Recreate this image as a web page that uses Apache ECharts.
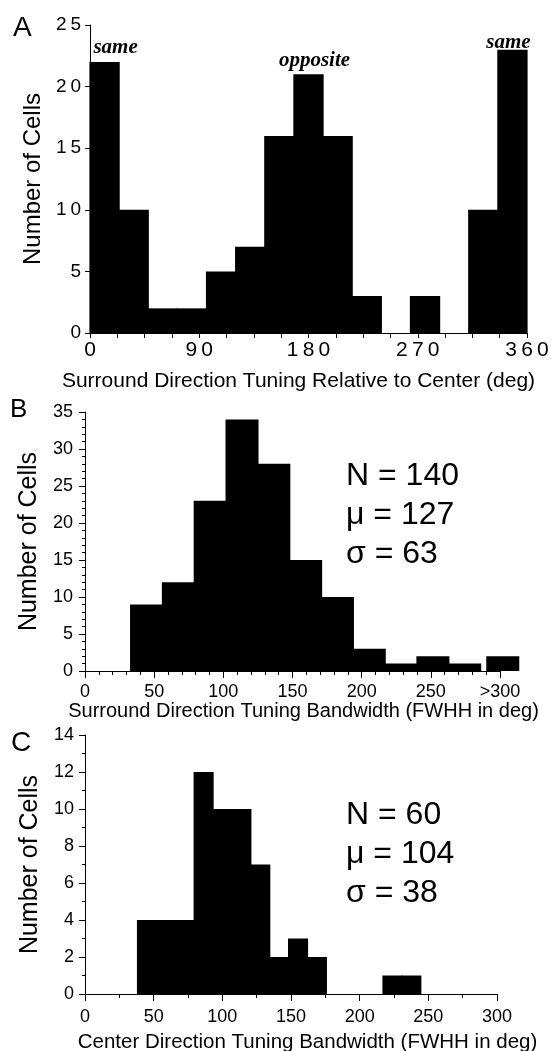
<!DOCTYPE html>
<html>
<head>
<meta charset="utf-8">
<script src="https://cdn.jsdelivr.net/npm/echarts@6/dist/echarts.min.js"></script>
<style>
  html, body { margin: 0; padding: 0; background: #fff; }
  #chart { width: 552px; height: 1051px; }
</style>
</head>
<body>
<div id="chart"></div>
<script>
// A: surround direction relative to center, 24 deg bins
var aEdges = [0, 24, 48, 72, 96, 120, 144, 168, 192, 216, 240, 264, 288, 312, 336, 360];
var aCounts = [22, 10, 2, 2, 5, 7, 16, 21, 16, 3, 0, 3, 0, 10, 23];
var aNotes = ['same', '', '', '', '', '', '', 'opposite', '', '', '', '', '', '', 'same'];
var aTickLabels = ['0', '90', '180', '270', '360'];

// B: surround bandwidth
var bEdges = [33, 56, 79, 102, 125, 148, 171, 194, 217, 240, 263, 286];
var bCounts = [9, 12, 23, 34, 28, 15, 10, 3, 1, 2, 1];
var bOverflow = [290.5, 313.5, 2];
var bTickLabels = ['0', '50', '100', '150', '200', '250', '>300'];
var bStats = ['N = 140', 'μ = 127', 'σ = 63'];

// C: center bandwidth
var cEdges = [38.25, 52, 65.75, 79.5, 93.25, 107, 120.75, 134.5, 148.25, 162, 175.75, 189.5, 203.25, 217, 230.75, 244.5];
var cCounts = [4, 4, 4, 12, 10, 10, 7, 2, 3, 2, 0, 0, 0, 1, 1];
var cStats = ['N = 60', 'μ = 104', 'σ = 38'];

var FONT = "'Liberation Sans', Arial, Helvetica, sans-serif";
var noteOffsets = { 0: [11, -14], 7: [6, -14], 14: [-4, -7] };

function bins(edges, counts) {
  return counts.map(function (n, i) { return [edges[i], edges[i + 1], n]; });
}

function spaced(s) {
  return String(s).split('').join('\u2009');
}

function histItem(notes) {
  return function (params, api) {
    var p0 = api.coord([api.value(0), api.value(2)]);
    var p1 = api.coord([api.value(1), 0]);
    // overlap neighbours by half a pixel each side so no seams show
    var rect = {
      type: 'rect',
      shape: { x: p0[0] - 0.6, y: p0[1], width: p1[0] - p0[0] + 1.2, height: p1[1] - p0[1] },
      style: { fill: '#000' }
    };
    var note = notes && notes[params.dataIndex];
    if (!note) return rect;
    var off = noteOffsets[params.dataIndex] || [0, -14];
    return {
      type: 'group',
      children: [rect, {
        type: 'text',
        x: (p0[0] + p1[0]) / 2 + off[0],
        y: p0[1] + off[1],
        style: {
          text: note, fill: '#000', align: 'center', verticalAlign: 'middle',
          font: "italic bold 21px 'Liberation Serif', 'Times New Roman', serif"
        }
      }]
    };
  };
}

function axisBase() {
  return {
    axisLine: { show: true, onZero: false, lineStyle: { color: '#000', width: 1 } },
    axisTick: { show: true, inside: false, length: 5, lineStyle: { color: '#000' } },
    splitLine: { show: false },
    minorSplitLine: { show: false }
  };
}

function merge(a, b) {
  for (var k in b) a[k] = b[k];
  return a;
}

var chart = echarts.init(document.getElementById('chart'));

var option = {
  animation: false,
  backgroundColor: '#fff',
  textStyle: { fontFamily: FONT, color: '#000' },
  grid: [
    { left: 90, top: 25, width: 437, height: 308, outerBoundsMode: 'none' },
    { left: 85, top: 412, width: 415, height: 259, outerBoundsMode: 'none' },
    { left: 85, top: 735, width: 412, height: 259, outerBoundsMode: 'none' }
  ],
  xAxis: [
    merge(axisBase(), {
      gridIndex: 0, type: 'value', min: 0, max: 360, interval: 90,
      minorTick: { show: true, splitNumber: 4, length: 5, lineStyle: { color: '#000' } },
      axisLabel: {
        color: '#000', fontSize: 21, fontFamily: FONT, margin: 7,
        formatter: function (v) { return spaced(aTickLabels[v / 90]); }
      },
      name: 'Surround Direction Tuning Relative to Center (deg)',
      nameLocation: 'middle', nameGap: 38,
      nameTextStyle: { color: '#000', fontSize: 21, fontFamily: FONT, padding: [0, 20, 0, 0] }
    }),
    merge(axisBase(), {
      gridIndex: 1, type: 'value', min: 0, max: 300, interval: 50,
      axisTick: { show: true, length: 7, lineStyle: { color: '#000' } },
      minorTick: { show: true, splitNumber: 5, length: 4, lineStyle: { color: '#000' } },
      axisLabel: {
        color: '#000', fontSize: 18, fontFamily: FONT, margin: 12,
        formatter: function (v) { return bTickLabels[v / 50]; }
      },
      name: 'Surround Direction Tuning Bandwidth (FWHH in deg)',
      nameLocation: 'middle', nameGap: 30,
      nameTextStyle: { color: '#000', fontSize: 20, fontFamily: FONT, padding: [0, 0, 0, 22] }
    }),
    merge(axisBase(), {
      gridIndex: 2, type: 'value', min: 0, max: 300, interval: 50,
      axisTick: { show: true, length: 7, lineStyle: { color: '#000' } },
      minorTick: { show: true, splitNumber: 2, length: 4, lineStyle: { color: '#000' } },
      axisLabel: { color: '#000', fontSize: 18, fontFamily: FONT, margin: 14 },
      name: 'Center Direction Tuning Bandwidth (FWHH in deg)',
      nameLocation: 'middle', nameGap: 38,
      nameTextStyle: { color: '#000', fontSize: 20.5, fontFamily: FONT, padding: [0, 0, 0, 33] }
    })
  ],
  yAxis: [
    merge(axisBase(), {
      gridIndex: 0, type: 'value', min: 0, max: 25, interval: 5,
      axisLabel: {
        color: '#000', fontSize: 19, fontFamily: FONT, margin: 9,
        formatter: function (v) { return spaced(v); }
      },
      name: 'Number of Cells', nameLocation: 'middle', nameGap: 40,
      nameTextStyle: { color: '#000', fontSize: 24, fontFamily: FONT }
    }),
    merge(axisBase(), {
      gridIndex: 1, type: 'value', min: 0, max: 35, interval: 5,
      axisTick: { show: true, length: 6, lineStyle: { color: '#000' } },
      minorTick: { show: true, splitNumber: 5, length: 3, lineStyle: { color: '#000' } },
      axisLabel: { color: '#000', fontSize: 18, fontFamily: FONT, margin: 12 },
      name: 'Number of Cells', nameLocation: 'middle', nameGap: 39,
      nameTextStyle: { color: '#000', fontSize: 25, fontFamily: FONT }
    }),
    merge(axisBase(), {
      gridIndex: 2, type: 'value', min: 0, max: 14, interval: 2,
      axisTick: { show: true, length: 6, lineStyle: { color: '#000' } },
      minorTick: { show: true, splitNumber: 2, length: 3, lineStyle: { color: '#000' } },
      axisLabel: { color: '#000', fontSize: 18, fontFamily: FONT, margin: 11 },
      name: 'Number of Cells', nameLocation: 'middle', nameGap: 41,
      nameTextStyle: { color: '#000', fontSize: 25, fontFamily: FONT }
    })
  ],
  graphic: [
    { type: 'text', left: 13, top: 14, style: { text: 'A', font: '28px ' + FONT, fill: '#000' } },
    { type: 'text', left: 10, top: 397, style: { text: 'B', font: '26px ' + FONT, fill: '#000' } },
    { type: 'text', left: 11, top: 729, style: { text: 'C', font: '28px ' + FONT, fill: '#000' } },
    { type: 'text', left: 346, top: 457, style: { text: bStats.join('\n'), font: '32px ' + FONT, lineHeight: 39, fill: '#000' } },
    { type: 'text', left: 346, top: 796, style: { text: cStats.join('\n'), font: '32px ' + FONT, lineHeight: 39, fill: '#000' } }
  ],
  series: [
    {
      type: 'custom', xAxisIndex: 0, yAxisIndex: 0,
      renderItem: histItem(aNotes),
      encode: { x: [0, 1], y: 2 },
      data: bins(aEdges, aCounts)
    },
    {
      type: 'custom', xAxisIndex: 1, yAxisIndex: 1,
      renderItem: histItem(null),
      encode: { x: [0, 1], y: 2 },
      data: bins(bEdges, bCounts).concat([bOverflow])
    },
    {
      type: 'custom', xAxisIndex: 2, yAxisIndex: 2,
      renderItem: histItem(null),
      encode: { x: [0, 1], y: 2 },
      data: bins(cEdges, cCounts)
    }
  ]
};

chart.setOption(option);
window.addEventListener('resize', function () { chart.resize(); });
</script>
</body>
</html>
